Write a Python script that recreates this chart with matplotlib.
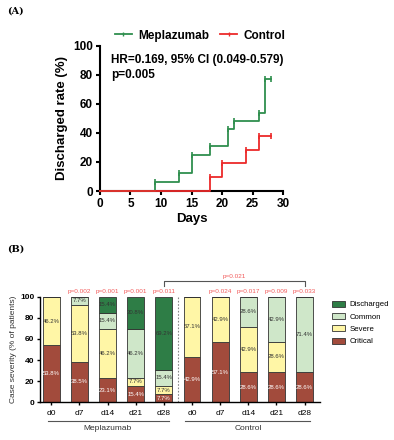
import numpy as np
import matplotlib.pyplot as plt

plt.rcParams['font.family'] = ['Liberation Sans', 'DejaVu Sans']

# Panel A: Kaplan-Meier style discharge curves
mep_t = [0, 9, 13, 15, 18, 21, 22, 26, 27, 28]
mep_v = [0, 6.2, 12.5, 25, 31, 43, 48, 54, 77, 77]
ctl_t = [0, 18, 20, 24, 26, 28]
ctl_v = [0, 9.5, 19, 28, 38, 38]

# Panel B: case severity stacked bars
days = ["d0", "d7", "d14", "d21", "d28"]
critical = [53.8, 38.5, 23.1, 15.4, 7.7, 42.9, 57.1, 28.6, 28.6, 28.6]
severe = [46.2, 53.8, 46.2, 7.7, 7.7, 57.1, 42.9, 42.9, 28.6, 0]
common = [0, 7.7, 15.4, 46.2, 15.4, 0, 0, 28.6, 42.9, 71.4]
discharged = [0, 0, 15.4, 30.8, 69.2, 0, 0, 0, 0, 0]
pvals = ["", "p=0.002", "p=0.001", "p=0.001", "p=0.011",
         "", "p=0.024", "p=0.017", "p=0.009", "p=0.033"]

green = "#2f8f4e"
red = "#ec2a2a"
c_crit = "#a24b3c"
c_sev = "#fff6a6"
c_com = "#cfe7c9"
c_dis = "#2e7d46"
pred = "#f25b5b"

fig = plt.figure(figsize=(3.94, 4.4), dpi=100)

# ---- (A)
ax = fig.add_axes([0.2538, 0.5659, 0.4645, 0.3296])
ax.step(mep_t, mep_v, where="post", color=green, lw=1.3, clip_on=False, zorder=3)
ax.step(ctl_t, ctl_v, where="post", color=red, lw=1.3, clip_on=False, zorder=4)
ax.plot(mep_t[1:], mep_v[1:], ls="none", marker="|", ms=4, mew=1.2, color=green, zorder=3)
ax.plot(ctl_t[1:], ctl_v[1:], ls="none", marker="|", ms=4, mew=1.2, color=red, zorder=4)
ax.set_xlim(0, 30)
ax.set_ylim(0, 100)
ax.set_xticks(range(0, 31, 5))
ax.set_yticks(range(0, 101, 20))
for s in ["top", "right"]:
    ax.spines[s].set_visible(False)
for s in ["left", "bottom"]:
    ax.spines[s].set_linewidth(1.5)
ax.tick_params(width=1.5, length=3, labelsize=8.5, pad=2)
for lab in ax.get_xticklabels() + ax.get_yticklabels():
    lab.set_fontweight("bold")
ax.set_xlabel("Days", fontsize=9.5, fontweight="bold", labelpad=2)
ax.set_ylabel("Discharged rate (%)", fontsize=9.5, fontweight="bold", labelpad=4)
ax.text(0.06, 0.90, "HR=0.169, 95% CI (0.049-0.579)", transform=ax.transAxes,
        fontsize=8.5, fontweight="bold", va="center")
ax.text(0.06, 0.80, "p=0.005", transform=ax.transAxes,
        fontsize=8.5, fontweight="bold", va="center")
l1, = ax.plot([], [], color=green, lw=1.3, marker="|", ms=3, mew=1)
l2, = ax.plot([], [], color=red, lw=1.3, marker="|", ms=3, mew=1)
leg = ax.legend([l1, l2], ["Meplazumab", "Control"], ncol=2, frameon=False,
                loc="lower left", bbox_to_anchor=(0.05, 0.99), handlelength=1.4,
                handletextpad=0.6, columnspacing=0.9, borderpad=0,
                prop={"size": 8.5, "weight": "bold"})
fig.text(0.018, 0.975, "(A)", family="DejaVu Serif", fontweight="bold", fontsize=7, va="center")

# ---- (B)
bx = fig.add_axes([0.1015, 0.0857, 0.7107, 0.24])
x = np.arange(10)
w = 0.6
bottom = np.zeros(10)
for vals, col, name in [(critical, c_crit, "Critical"), (severe, c_sev, "Severe"),
                        (common, c_com, "Common"), (discharged, c_dis, "Discharged")]:
    vals = np.array(vals)
    bx.bar(x, vals, w, bottom=bottom, color=col, edgecolor="#333333", lw=0.6, label=name)
    for i, v in enumerate(vals):
        if v > 0:
            tc = "white" if col == c_crit else "#333333"
            bx.text(x[i], bottom[i] + v / 2, f"{v:.1f}%", ha="center", va="center",
                    fontsize=4.3, color=tc)
    bottom += vals
bx.axvline(4.5, color="#888888", lw=0.8, ls=(0, (1.5, 1.5)))
bx.set_xlim(-0.4, 9.55)
bx.set_ylim(0, 100)
bx.set_xticks(x)
bx.set_xticklabels(days + days, fontsize=6)
bx.set_yticks(range(0, 101, 20))
bx.tick_params(axis="y", labelsize=6, width=1, length=2.5, pad=1.5)
bx.tick_params(axis="x", width=1, length=2.5, pad=3)
for lab in bx.get_yticklabels():
    lab.set_fontweight("bold")
for s in ["top", "right"]:
    bx.spines[s].set_visible(False)
for s in ["left", "bottom"]:
    bx.spines[s].set_linewidth(1)
bx.set_ylabel("Case severity (% of patients)", fontsize=6, labelpad=2, color="#333333")
for i, p in enumerate(pvals):
    if p:
        bx.text(x[i], 103, p, ha="center", va="bottom", fontsize=4.6, color=pred)

# group underlines
bx.plot([-0.1, 4.2], [-0.18, -0.18], transform=bx.get_xaxis_transform(), clip_on=False,
        color="#555555", lw=0.8)
bx.plot([4.75, 9.2], [-0.18, -0.18], transform=bx.get_xaxis_transform(), clip_on=False,
        color="#555555", lw=0.8)
bx.text(2.0, -0.215, "Meplazumab", transform=bx.get_xaxis_transform(), ha="center",
        va="top", fontsize=6, color="#333333")
bx.text(7.0, -0.215, "Control", transform=bx.get_xaxis_transform(), ha="center",
        va="top", fontsize=6, color="#333333")

# bracket between d28 bars
bx.plot([4, 4, 9, 9], [110, 115, 115, 110], clip_on=False, color="#555555", lw=0.8)
bx.text(6.5, 117, "p=0.021", ha="center", va="bottom", fontsize=4.6, color=pred)

h, l = bx.get_legend_handles_labels()
bx.legend(h[::-1], l[::-1], loc="upper left", bbox_to_anchor=(1.03, 1.0), frameon=False,
          fontsize=5.6, handlelength=1.6, handleheight=0.8, labelspacing=0.6,
          handletextpad=0.6, borderpad=0)
fig.text(0.018, 0.434, "(B)", family="DejaVu Serif", fontweight="bold", fontsize=7, va="center")

fig.savefig("out.png", dpi=100)
